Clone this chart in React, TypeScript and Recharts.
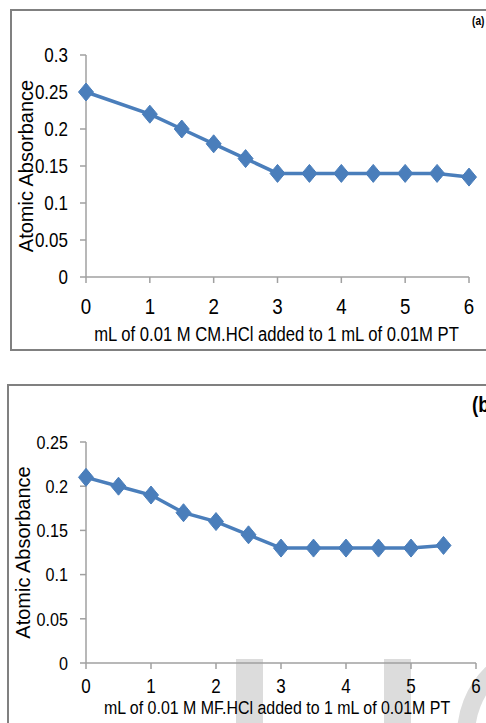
import React from 'react';
import { LineChart, Line, XAxis, YAxis, Label } from 'recharts';

const xA = [0, 1, 1.5, 2, 2.5, 3, 3.5, 4, 4.5, 5, 5.5, 6];
const yA = [0.25, 0.22, 0.2, 0.18, 0.16, 0.14, 0.14, 0.14, 0.14, 0.14, 0.14, 0.135];
const xB = [0, 0.5, 1, 1.5, 2, 2.5, 3, 3.5, 4, 4.5, 5, 5.5];
const yB = [0.21, 0.2, 0.19, 0.17, 0.16, 0.145, 0.13, 0.13, 0.13, 0.13, 0.13, 0.133];
const xTicks = [0, 1, 2, 3, 4, 5, 6];
const yTicksA = [0, 0.05, 0.1, 0.15, 0.2, 0.25, 0.3];
const yTicksB = [0, 0.05, 0.1, 0.15, 0.2, 0.25];
const titleA = 'mL of 0.01 M CM.HCl added to 1 mL of 0.01M PT';
const titleB = 'mL of 0.01 M MF.HCl added to 1 mL of 0.01M PT';
const yTitle = 'Atomic Absorbance';
const panelA = '(a)';
const panelB = '(b)';

const dataA = xA.map((x, i) => ({ x, y: yA[i] }));
const dataB = xB.map((x, i) => ({ x, y: yB[i] }));

const BLUE = '#4A7EBB';
const AXIS = '#A0A0A0';
const FONT = "'Liberation Sans', Arial, sans-serif";
const SQ = 0.85;

const Diamond = (props: any) => {
  const { cx, cy, index } = props;
  if (cx == null || cy == null) return null;
  return (
    <polygon
      key={`d-${index}`}
      points={`${cx},${cy - 9} ${cx + 7.5},${cy} ${cx},${cy + 9} ${cx - 7.5},${cy}`}
      fill={BLUE}
      stroke={BLUE}
      strokeWidth={1}
    />
  );
};

const makeXTick = (fs: number) => (props: any) => {
  const { x, y, payload, index } = props;
  return (
    <g key={`xt-${index}`} transform={`translate(${x} ${y}) scale(${SQ} 1)`}>
      <text x={0} y={0} dy="0.71em" textAnchor="middle" fontFamily={FONT} fontSize={fs} fill="#000">
        {String(payload.value)}
      </text>
    </g>
  );
};

const makeYTick = (fs: number) => (props: any) => {
  const { x, y, payload, index } = props;
  return (
    <g key={`yt-${index}`} transform={`translate(${x} ${y}) scale(${SQ} 1)`}>
      <text x={0} y={0} dy="0.36em" textAnchor="end" fontFamily={FONT} fontSize={fs} fill="#000">
        {String(payload.value)}
      </text>
    </g>
  );
};

// sx squeezes the title horizontally to the narrow look of the original
const makeXTitle = (text: string, dy: number, fs: number, sx: number, shift: number) => (props: any) => {
  const vb = props.viewBox || {};
  const cx = vb.x + vb.width / 2 + shift;
  return (
    <g transform={`translate(${cx} ${vb.y + dy}) scale(${sx} 1)`}>
      <text x={0} y={0} textAnchor="middle" fontFamily={FONT} fontSize={fs} fill="#000">
        {text}
      </text>
    </g>
  );
};

const makeYTitle = (cxOff: number, fs: number) => (props: any) => {
  const vb = props.viewBox || {};
  const cx = vb.x + cxOff;
  const cy = vb.y + vb.height / 2;
  return (
    <text
      x={cx}
      y={cy}
      textAnchor="middle"
      dominantBaseline="central"
      transform={`rotate(-90, ${cx}, ${cy})`}
      fontFamily={FONT}
      fontSize={fs}
      fill="#000"
    >
      {yTitle}
    </text>
  );
};

export default function App() {
  return (
    <div style={{ position: 'absolute', left: 0, top: 0, width: 486, height: 723, overflow: 'hidden', background: '#fff' }}>
      {/* frame boxes */}
      <div style={{ position: 'absolute', left: 10, top: 9, width: 490, height: 342, border: '2px solid #808080', boxSizing: 'border-box' }} />
      <div style={{ position: 'absolute', left: 7, top: 384, width: 500, height: 360, border: '2px solid #808080', boxSizing: 'border-box' }} />
      {/* watermark shapes */}
      <div style={{ position: 'absolute', left: 236, top: 659, width: 27, height: 70, background: '#DCDCDC' }} />
      <div style={{ position: 'absolute', left: 384, top: 659, width: 27, height: 70, background: '#DCDCDC' }} />
      <div style={{ position: 'absolute', left: 457, top: 640, width: 190, height: 190, borderRadius: '50%', border: '18px solid #DCDCDC', boxSizing: 'border-box' }} />

      <div style={{ position: 'absolute', left: 0, top: 0 }}>
        <LineChart width={486} height={360} data={dataA} margin={{ top: 55, right: 17, bottom: 13, left: 16 }}>
          <XAxis
            dataKey="x"
            type="number"
            domain={[0, 6]}
            ticks={xTicks}
            interval={0}
            height={70}
            stroke={AXIS}
            strokeWidth={1.5}
            tickSize={6}
            tickMargin={15}
            tick={makeXTick(22)}
            tickLine={{ stroke: AXIS, strokeWidth: 1.5 }}
          >
            <Label content={makeXTitle(titleA, 64, 19.5, 0.853, -1)} />
          </XAxis>
          <YAxis
            type="number"
            domain={[0, 0.3]}
            ticks={yTicksA}
            interval={0}
            width={70}
            stroke={AXIS}
            strokeWidth={1.5}
            tickSize={6}
            tickMargin={12}
            tick={makeYTick(20)}
            tickLine={{ stroke: AXIS, strokeWidth: 1.5 }}
          >
            <Label content={makeYTitle(10, 20)} />
          </YAxis>
          <Line dataKey="y" stroke={BLUE} strokeWidth={3.5} dot={Diamond} activeDot={false} isAnimationActive={false} />
        </LineChart>
      </div>

      <div style={{ position: 'absolute', left: 0, top: 363 }}>
        <LineChart width={486} height={360} data={dataB} margin={{ top: 79, right: 10, bottom: 10, left: 16 }}>
          <XAxis
            dataKey="x"
            type="number"
            domain={[0, 6]}
            ticks={xTicks}
            interval={0}
            height={50}
            stroke={AXIS}
            strokeWidth={1.5}
            tickSize={6}
            tickMargin={10}
            tick={makeXTick(20)}
            tickLine={{ stroke: AXIS, strokeWidth: 1.5 }}
          >
            <Label content={makeXTitle(titleB, 50.5, 19, 0.84, -4)} />
          </XAxis>
          <YAxis
            type="number"
            domain={[0, 0.25]}
            ticks={yTicksB}
            interval={0}
            width={70}
            stroke={AXIS}
            strokeWidth={1.5}
            tickSize={6}
            tickMargin={12}
            tick={makeYTick(19)}
            tickLine={{ stroke: AXIS, strokeWidth: 1.5 }}
          >
            <Label content={makeYTitle(7, 20)} />
          </YAxis>
          <Line dataKey="y" stroke={BLUE} strokeWidth={3.5} dot={Diamond} activeDot={false} isAnimationActive={false} />
        </LineChart>
      </div>

      <div style={{ position: 'absolute', left: 472, top: 15, fontFamily: FONT, fontWeight: 'bold', fontSize: 12, color: '#000', lineHeight: 1, transform: 'scaleX(0.85)', transformOrigin: 'left top' }}>{panelA}</div>
      <div style={{ position: 'absolute', left: 472, top: 394, fontFamily: FONT, fontWeight: 'bold', fontSize: 22, color: '#000', lineHeight: 1, whiteSpace: 'nowrap', transform: 'scaleX(0.85)', transformOrigin: 'left top' }}>{panelB}</div>
    </div>
  );
}
